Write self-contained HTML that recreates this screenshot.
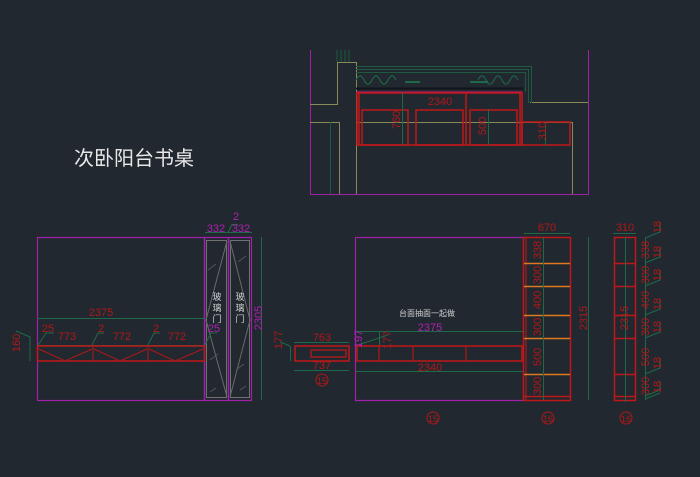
<!DOCTYPE html>
<html><head><meta charset="utf-8"><style>
html,body{margin:0;padding:0;background:#212830;}
svg{display:block;}
text{font-family:"Liberation Sans","Noto Sans CJK SC",sans-serif;}
</style></head><body>
<svg width="700" height="477" viewBox="0 0 700 477" xmlns="http://www.w3.org/2000/svg">
<rect width="700" height="477" fill="#212830"/>

<!-- ===== Top plan ===== -->
<g fill="none" stroke-width="1">
<path d="M310.5 50V194.5H588.5V50" stroke="#a020a8"/>
<path d="M310 104.5H337.5V62.5H356.5V194" stroke="#8a8a58"/>
<path d="M310 122.5H339.5V194" stroke="#8a8a58"/>
<path d="M330.5 122V194" stroke="#1e5a40"/>
<path d="M337 50V62M341 50V62M345 50V62M349 50V62" stroke="#1e5a40"/>
<path d="M530 102.5H588" stroke="#8a8a58"/>
<path d="M356 122.5H572.5V194" stroke="#8a8a58"/>
<path d="M356 66.5H531.5V103M356 69.5H528.5V103M356 72.5H525.5V92" stroke="#1e5a40"/>
<path d="M356 80q4-8 8 0t8 0t8 0t8 0t8 0M478 80q4-8 8 0t8 0t8 0t8 0t8 0" stroke="#1e5a40" stroke-width="1.5"/>
<path d="M405 82H420M470 82H488" stroke="#1e6a48" stroke-width="2"/>
<path d="M356 88.5H523" stroke="#111418" stroke-width="2"/>
<path d="M356 92.5H522" stroke="#d01878" stroke-width="2"/>
<g stroke="#c01818" stroke-width="1.5">
<rect x="357" y="93" width="165" height="52"/>
<rect x="362" y="110" width="46" height="35"/>
<rect x="416" y="110" width="47" height="35"/>
<rect x="470" y="110" width="47" height="35"/>
<path d="M466 93V145M359 93V145M520 93V145"/>
<rect x="522" y="122" width="48" height="23"/>
</g>
<path d="M402.5 92V145M488.5 109V145M545.5 122V145" stroke="#1e6a48"/>
</g>
<g fill="#b01818" font-size="11">
<text x="440" y="105" text-anchor="middle">2340</text>
<text transform="translate(400,120) rotate(-90)" text-anchor="middle">760</text>
<text transform="translate(486,126) rotate(-90)" text-anchor="middle">500</text>
<text transform="translate(546,131) rotate(-90)" text-anchor="middle">310</text>
</g>

<!-- Title -->
<text x="74" y="165" font-size="20" fill="#e8e8e8" font-family="'Liberation Sans','Noto Sans CJK SC',sans-serif">次卧阳台书桌</text>

<!-- ===== Left elevation ===== -->
<g fill="none">
<rect x="37.5" y="237.5" width="214" height="163" stroke="#a020a8" stroke-width="1.2"/>
<path d="M204.5 237V400M228.5 237V400" stroke="#a020a8" stroke-width="1.5"/>
<rect x="206.5" y="240.5" width="20" height="157" stroke="#707070"/>
<rect x="230.5" y="240.5" width="19" height="157" stroke="#707070"/>
<path d="M227 241L206 320L227 397M230 241L250 320L230 397" stroke="#6a6a6a"/>
<path d="M208 270l8-6M238 262l8-6M210 360l8-6M236 370l8-6M240 390l6-4M210 392l6-4" stroke="#555"/>
<g stroke="#1e6a48">
<path d="M37 318.5H205M37 345.5H205M261.5 237V400M205 232.5H252M228 232.5l4-8h6M38 345l8-12h8M92 345l6-12h6M148 345l6-12h6M205 345l6-12h6M16 331l14 6V346M30 346.5V361"/>
</g>
<rect x="37.5" y="346" width="167" height="15" stroke="#c01818" stroke-width="1.5"/>
<path d="M93 346V361M148 346V361M39 349L65 361L92 349M94 349L120 361L147 349M149 349L175 361L203 349" stroke="#b01818"/>
</g>
<g fill="#b01818" font-size="11">
<text x="101" y="316" text-anchor="middle">2375</text>
<text x="67" y="340" text-anchor="middle">773</text>
<text x="122" y="340" text-anchor="middle">772</text>
<text x="177" y="340" text-anchor="middle">772</text>
<text x="48" y="332" text-anchor="middle">25</text>
<text x="101" y="332" text-anchor="middle">2</text>
<text x="156" y="332" text-anchor="middle">2</text>
<text transform="translate(20,343) rotate(-90)" text-anchor="middle">160</text>
<text transform="translate(282,340) rotate(-90)" text-anchor="middle">177</text>
</g>
<g fill="#b020b0" font-size="11">
<text x="216" y="232" text-anchor="middle">332</text>
<text x="241" y="232" text-anchor="middle">332</text>
<text x="236" y="220" text-anchor="middle">2</text>
<text x="214" y="332" text-anchor="middle">25</text>
<text transform="translate(262,318) rotate(-90)" text-anchor="middle">2305</text>
</g>
<g fill="#d0d0d0" font-size="9" text-anchor="middle">
<text x="217" y="300">玻</text><text x="217" y="311">璃</text><text x="217" y="322">门</text>
<text x="240" y="300">玻</text><text x="240" y="311">璃</text><text x="240" y="322">门</text>
</g>

<!-- ===== Small section 763 ===== -->
<g fill="none">
<rect x="295" y="346" width="54" height="15" stroke="#c01818" stroke-width="1.5"/>
<rect x="311" y="350" width="35" height="7" stroke="#c01818" stroke-width="1.2"/>
<path d="M294 342.5H349M294 370.5H349M290.5 346V361M280 342l10 4" stroke="#1e6a48"/>
<circle cx="322" cy="380" r="6" stroke="#b01818"/>
</g>
<g fill="#b01818" font-size="11" text-anchor="middle">
<text x="322" y="341">763</text>
<text x="322" y="369">737</text>
<text x="322" y="384" font-size="9">15</text>
</g>

<!-- ===== Right elevation ===== -->
<g fill="none">
<path d="M523 237.5H355.5V400.5H523" stroke="#a020a8" stroke-width="1.2"/>
<path d="M356 331.5H523M356 371.5H523M379.5 332V345M588.5 237V400M524 233.5H570M358 345l30-10" stroke="#1e6a48"/>
<rect x="357" y="346" width="165" height="15" stroke="#c01818" stroke-width="1.5"/>
<path d="M413 346V361M466 346V361M379 346V361" stroke="#b01818" stroke-width="1.2"/>
<rect x="523.5" y="237.5" width="47" height="163" stroke="#c01818" stroke-width="1.5"/>
<path d="M526 237V400" stroke="#c01818"/>
<path d="M524 263.5H570M524 286.5H570M524 315.5H570M524 338.5H570M524 374.5H570" stroke="#e07820" stroke-width="1.5"/>
<path d="M524 396.5H570" stroke="#c01818" stroke-width="1.5"/>
<path d="M543.5 237V400" stroke="#1e6a48"/>
<circle cx="433" cy="418" r="6" stroke="#b01818"/>
<circle cx="548" cy="418" r="6" stroke="#b01818"/>
<circle cx="626" cy="418" r="6" stroke="#b01818"/>
<!-- side -->
<rect x="614.5" y="237.5" width="21" height="163" stroke="#c01818" stroke-width="1.5"/>
<path d="M614 263.5H636M614 286.5H636M614 315.5H636M614 338.5H636M614 374.5H636M614 396.5H636" stroke="#c01818" stroke-width="1.5"/>
<path d="M625.5 237V402M645.5 237V400M613 233.5H636" stroke="#1e6a48"/>
<path d="M645 238l15-6V223M645 263l15-6V248M645 286l15-6V271M645 315l15-6V300M645 338l15-6V323M645 374l15-6V359M645 396l15-6V381M645 399l15-6" stroke="#1e6a48"/>
</g>
<g fill="#b01818" font-size="11" text-anchor="middle">
<text x="430" y="371">2340</text>
<text x="547" y="231">670</text>
<text x="625" y="231">310</text>
<text transform="translate(587,318) rotate(-90)">2315</text>
<text transform="translate(628,318) rotate(-90)">2315</text>
<text transform="translate(391,340) rotate(-90)">177</text>
<text transform="translate(541,250) rotate(-90)">338</text>
<text transform="translate(541,275) rotate(-90)">300</text>
<text transform="translate(541,300) rotate(-90)">400</text>
<text transform="translate(541,327) rotate(-90)">300</text>
<text transform="translate(541,357) rotate(-90)">500</text>
<text transform="translate(541,386) rotate(-90)">300</text>
<text transform="translate(649,250) rotate(-90)">338</text>
<text transform="translate(649,275) rotate(-90)">300</text>
<text transform="translate(649,300) rotate(-90)">400</text>
<text transform="translate(649,327) rotate(-90)">300</text>
<text transform="translate(649,357) rotate(-90)">500</text>
<text transform="translate(649,386) rotate(-90)">300</text>
<text transform="translate(661,227) rotate(-90)">18</text>
<text transform="translate(661,252) rotate(-90)">18</text>
<text transform="translate(661,275) rotate(-90)">18</text>
<text transform="translate(661,304) rotate(-90)">18</text>
<text transform="translate(661,327) rotate(-90)">18</text>
<text transform="translate(661,363) rotate(-90)">18</text>
<text transform="translate(661,387) rotate(-90)">18</text>
<text x="433" y="422" font-size="9">15</text>
<text x="548" y="422" font-size="9">16</text>
<text x="626" y="422" font-size="9">16</text>
</g>
<g fill="#b020b0" font-size="11" text-anchor="middle">
<text x="430" y="331">2375</text>
<text transform="translate(362,339) rotate(-90)">197</text>
</g>
<text x="427" y="316" fill="#d0d0d0" font-size="8" text-anchor="middle" font-family="'Liberation Sans','Noto Sans CJK SC',sans-serif">台面抽面一起做</text>
</svg>
</body></html>
